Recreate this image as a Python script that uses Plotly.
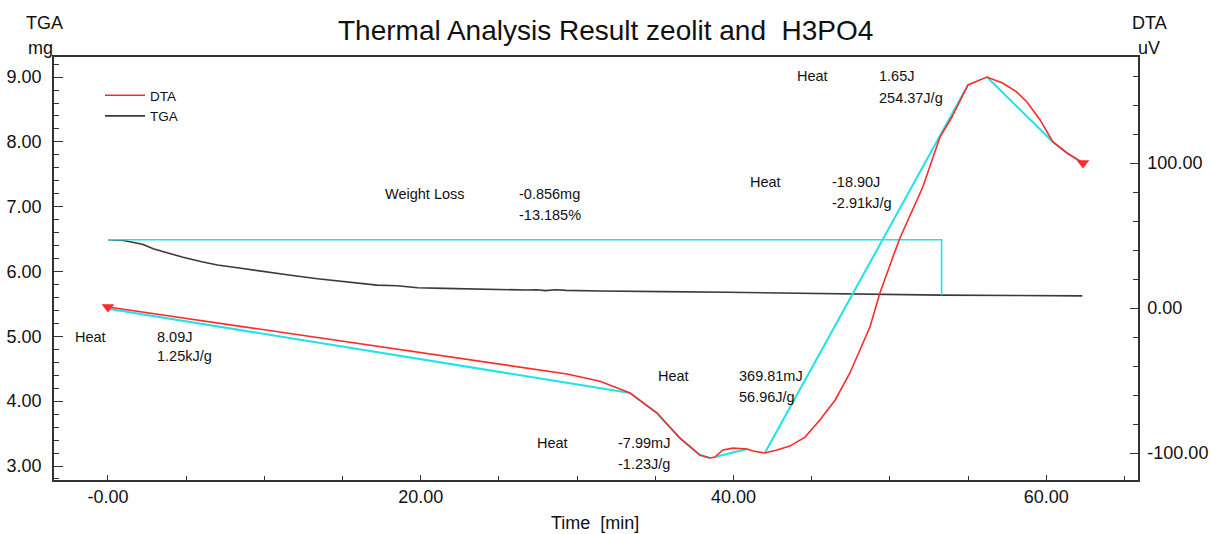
import plotly.graph_objects as go

# ---------------- data ----------------
tga_t = [0, 1.0, 2.2, 2.9, 3.5, 4.8, 6.0, 7.0, 8.5, 10.2, 11.8, 13.4, 15.0, 16.2, 17.2, 18.5,
         19.8, 21.5, 23.0, 24.5, 26.2, 26.8, 27.4, 28.0, 28.6, 29.3, 31.5, 33.0, 34.9, 35.5,
         39.6, 44.0, 48.5, 53.3, 58.0, 62.3]
tga_v = [6.49, 6.48, 6.42, 6.35, 6.31, 6.22, 6.15, 6.10, 6.05, 5.99, 5.94, 5.89, 5.85, 5.82, 5.79, 5.78,
         5.75, 5.74, 5.73, 5.72, 5.71, 5.715, 5.72, 5.705, 5.72, 5.71, 5.70, 5.70, 5.695, 5.69,
         5.68, 5.665, 5.65, 5.636, 5.63, 5.625]

dta_t = [0, 23.6, 25.06, 29.35, 31.46, 33.38, 35.1, 36.57, 37.85, 38.49, 38.81, 39.32, 39.96,
         40.86, 41.24, 42.0, 42.77, 43.6, 44.57, 45.52, 46.5, 47.44, 48.72, 49.36, 50.19, 50.64,
         52.1, 53.2, 53.96, 54.99, 56.2, 57.2, 58.1, 58.76, 59.6, 60.42, 61.32, 62.34]
dta_v = [0.7, -36.5, -38.8, -45.5, -50.5, -58.6, -72.4, -89.7, -101.4, -103.4, -102.8, -97.9, -96.6,
         -97.2, -98.6, -100.0, -97.9, -95.2, -89.0, -77.2, -63.4, -44.8, -13.1, 10.3, 35.2, 48.3,
         83.4, 117.9, 131.7, 153.8, 159.3, 155.2, 149.0, 142.1, 129.7, 114.5, 106.9, 100.0]

# integration baselines (DTA axis)
base_a_t = [0, 33.38]
base_a_v = [-0.5, -58.6]
base_b_t = [33.38, 35.1, 36.57, 37.85, 38.49]
base_b_v = [-58.6, -72.4, -89.7, -101.4, -103.4]
base_c_t = [38.81, 40.86]
base_c_v = [-102.8, -97.2]
base_d_t = [42.0, 54.99]
base_d_v = [-100.0, 153.8]
base_e_t = [56.2, 60.42, 61.32, 62.34]
base_e_v = [159.3, 114.5, 106.9, 100.0]

# weight loss marker (TGA axis)
wl_t = [0, 53.3, 53.3]
wl_v = [6.49, 6.49, 5.634]

tga_ticks = [3, 4, 5, 6, 7, 8, 9]
tga_ticktext = ["3.00", "4.00", "5.00", "6.00", "7.00", "8.00", "9.00"]
dta_ticks = [-100, 0, 100]
dta_ticktext = ["-100.00", "0.00", "100.00"]
time_ticks = [0, 20, 40, 60]
time_ticktext = ["-0.00", "20.00", "40.00", "60.00"]

notes = [
    ("Heat", 73, 337), ("8.09J", 155, 337), ("1.25kJ/g", 155, 356),
    ("Weight Loss", 383, 194), ("-0.856mg", 517, 194), ("-13.185%", 517, 215),
    ("Heat", 535, 443), ("-7.99mJ", 616, 443), ("-1.23J/g", 616, 464),
    ("Heat", 656, 376), ("369.81mJ", 737, 376), ("56.96J/g", 737, 397),
    ("Heat", 748, 182), ("-18.90J", 830, 182), ("-2.91kJ/g", 830, 203),
    ("Heat", 795, 76), ("1.65J", 877, 76), ("254.37J/g", 877, 98),
]

# ---------------- styling ----------------
W, H = 1211, 534
L, R, T, B = 54, 1138, 57, 480
RED = "#ff2a2a"
CYAN = "#1fe3ea"
DARK = "#3a3a3a"
FONT = "Liberation Sans, Arial, sans-serif"

def fx(px):
    return (px - L) / (R - L)

def fy(py):
    return (B - py) / (B - T)

fig = go.Figure()

fig.add_trace(go.Scatter(x=tga_t, y=tga_v, mode="lines", name="TGA",
                         line=dict(color=DARK, width=1.6), yaxis="y", showlegend=False))
fig.add_trace(go.Scatter(x=wl_t, y=wl_v, mode="lines", line=dict(color=CYAN, width=1.6),
                         yaxis="y", showlegend=False, hoverinfo="skip"))
for bt, bv in [(base_a_t, base_a_v), (base_b_t, base_b_v), (base_c_t, base_c_v),
               (base_d_t, base_d_v), (base_e_t, base_e_v)]:
    fig.add_trace(go.Scatter(x=bt, y=bv, mode="lines", line=dict(color=CYAN, width=2),
                             yaxis="y2", showlegend=False, hoverinfo="skip"))
fig.add_trace(go.Scatter(x=dta_t, y=dta_v, mode="lines", name="DTA",
                         line=dict(color=RED, width=1.6), yaxis="y2", showlegend=False))
fig.add_trace(go.Scatter(x=[dta_t[0], dta_t[-1]], y=[dta_v[0], dta_v[-1]], mode="markers",
                         marker=dict(symbol="triangle-down", size=11, color=RED),
                         yaxis="y2", showlegend=False, hoverinfo="skip"))
# legend entries
fig.add_trace(go.Scatter(x=[None], y=[None], mode="lines", name="DTA",
                         line=dict(color=RED, width=1.6), yaxis="y2"))
fig.add_trace(go.Scatter(x=[None], y=[None], mode="lines", name="TGA",
                         line=dict(color=DARK, width=1.6), yaxis="y"))

axis_common = dict(showgrid=False, zeroline=False, showline=True, linecolor="#333",
                   linewidth=1.5, ticks="inside", tickcolor="#333", automargin=False,
                   tickfont=dict(family=FONT, size=18, color="#111"))

fig.update_layout(
    width=W, height=H,
    margin=dict(l=L, r=W - R, t=T, b=H - B, autoexpand=False),
    paper_bgcolor="white", plot_bgcolor="white",
    font=dict(family=FONT, color="#111"),
    showlegend=True,
    legend=dict(x=fx(100), y=fy(80), xanchor="left", yanchor="top", itemwidth=40,
                bgcolor="rgba(0,0,0,0)", font=dict(family=FONT, size=13.5, color="#111"),
                traceorder="normal", tracegroupgap=0),
    xaxis=dict(range=[-3.45, 65.86], tickmode="array", tickvals=time_ticks,
               ticktext=time_ticktext, ticklen=5, mirror=True, ticklabelstandoff=0,
               minor=dict(dtick=5, tick0=0, ticks="inside", ticklen=4, tickcolor="#333"),
               **axis_common),
    yaxis=dict(range=[2.784, 9.31], tickmode="array", tickvals=tga_ticks,
               ticktext=tga_ticktext, ticklen=9, ticklabelstandoff=7,
               minor=dict(dtick=0.2, tick0=0, ticks="inside", ticklen=5, tickcolor="#333"),
               **axis_common),
    yaxis2=dict(range=[-118.6, 173.1], overlaying="y", side="right", tickmode="array",
                tickvals=dta_ticks, ticktext=dta_ticktext, ticklen=8, ticklabelstandoff=4,
                minor=dict(dtick=20, tick0=0, ticks="inside", ticklen=5, tickcolor="#333"),
                **axis_common),
)

anns = []
for txt, px, py in notes:
    anns.append(dict(text=txt, x=fx(px), y=fy(py), xref="paper", yref="paper",
                     xanchor="left", yanchor="middle", showarrow=False,
                     font=dict(family=FONT, size=14.5, color="#111")))

# title and axis labels
for txt, px, py, size in [
    ("Thermal Analysis Result zeolit and  H3PO4", 605, 31, 28),
    ("TGA", 44, 23, 18),
    ("mg", 40, 48, 18),
    ("DTA", 1149, 23, 18),
    ("uV", 1149, 48, 18),
    ("Time  [min]", 595, 523, 18),
]:
    anns.append(dict(text=txt, x=fx(px), y=fy(py), xref="paper", yref="paper",
                     xanchor="center", yanchor="middle", showarrow=False,
                     font=dict(family=FONT, size=size, color="#111")))

fig.update_layout(annotations=anns)

# remove the default page margin so the figure fills the window exactly
fig.write_html("out.html", config={"displayModeBar": False},
               post_script="document.body.style.margin='0';document.body.style.overflow='hidden';")
